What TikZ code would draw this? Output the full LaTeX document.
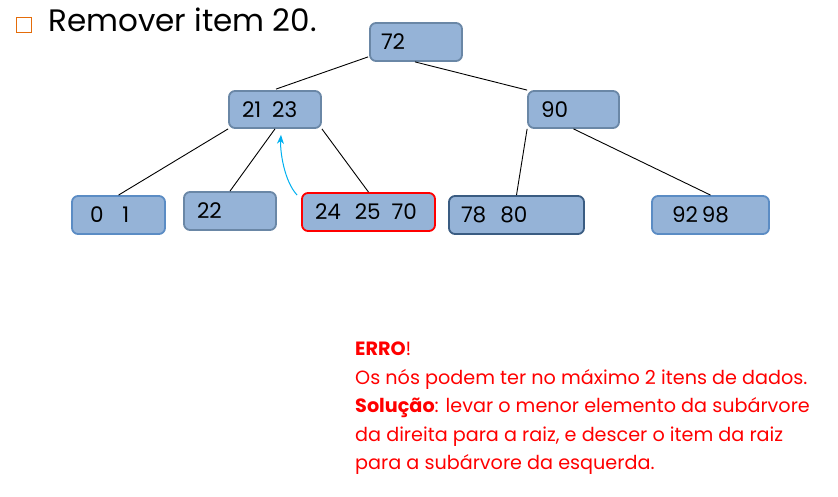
\documentclass[tikz,border=0pt]{standalone}
\usepackage{fontspec}
\setmainfont{Poppins}
\usetikzlibrary{calc,arrows.meta}
\definecolor{boxfill}{HTML}{95B3D7}
\definecolor{edgegray}{HTML}{6A87A6}
\definecolor{edgeblue}{HTML}{5B8CC4}
\definecolor{edgenavy}{HTML}{3A5C82}
\definecolor{bulletorange}{HTML}{E46C0A}
\definecolor{arrowcyan}{HTML}{00B0F0}
\begin{document}
\begin{tikzpicture}[x=1pt,y=-1pt,
  treebox/.style={draw=edgegray, fill=boxfill, line width=1.8pt, rounded corners=6pt,
    minimum height=38pt, inner ysep=0pt, align=left, font=\fontsize{21.5}{24}\selectfont},
  edge/.style={draw=black, line width=0.9pt}]
\useasboundingbox (0,0) rectangle (838,497);
\fill[white] (0,0) rectangle (838,497);

% title
\node[draw=bulletorange, line width=1.3pt, minimum size=15pt, inner sep=0pt] (bullet) at (24,25) {};
\node[anchor=base west, inner sep=0pt, font=\fontsize{31}{36}\selectfont] (title) at (48,32) {Remover item 20.};

% tree nodes
\node[treebox, text width=70pt, inner xsep=11pt] (r) at (416,42) {72};
\node[treebox, text width=66pt, inner xsep=13pt, minimum height=37pt] (a) at (275,109.5) {21\hspace{11pt}23};
\node[treebox, text width=65pt, inner xsep=13pt, minimum height=37pt] (b) at (573.5,109.5) {90};
\node[treebox, draw=edgeblue, text width=57pt, inner xsep=18pt] (c1) at (118.5,215) {0\hspace{19pt}1};
\node[treebox, text width=66pt, inner xsep=13pt] (c2) at (230,211) {22};
\node[treebox, draw=red, text width=107pt, inner xsep=13pt] (c3) at (368.5,212) {24\hspace{14pt}25\hspace{11pt}70};
\node[treebox, draw=edgenavy, text width=111pt, inner xsep=12pt] (c4) at (516.5,215) {78\hspace{14pt}80};
\node[treebox, draw=edgeblue, text width=77pt, inner xsep=20pt] (c5) at (710.5,215) {92\hspace{4pt}98};

% edges
\draw[edge] ($(r.south west)+(-1,-5)$) -- ($(a.north)+(1,-1)$);
\draw[edge] ($(r.south)+(-1,0)$) -- (b.north west);
\draw[edge] (a.south west) -- (c1.north);
\draw[edge] (a.south) -- (c2.north);
\draw[edge] (a.south east) -- (c3.north);
\draw[edge] (b.south west) -- (c4.north);
\draw[edge] (b.south) -- (c5.north);

% cyan arrow
\draw[arrowcyan, line width=1pt, -{Stealth[length=9pt,width=7pt]}]
  ($(c3.north west)+(-4,3)$) .. controls ($(a.south)+(9,52)$) and ($(a.south)+(5,22)$) .. ($(a.south)+(6,6)$);

% message
\node[anchor=north west, inner sep=0pt, text=red, align=left,
      font=\fontsize{19.2}{28.5}\selectfont] (msg) at (355,342)
  {\textbf{ERRO}!\\
   Os nós podem ter no máximo 2 itens de dados.\\
   \textbf{Solução}: levar o menor elemento da subárvore\\
   da direita para a raiz, e descer o item da raiz\\
   para a subárvore da esquerda.};
\end{tikzpicture}
\end{document}
